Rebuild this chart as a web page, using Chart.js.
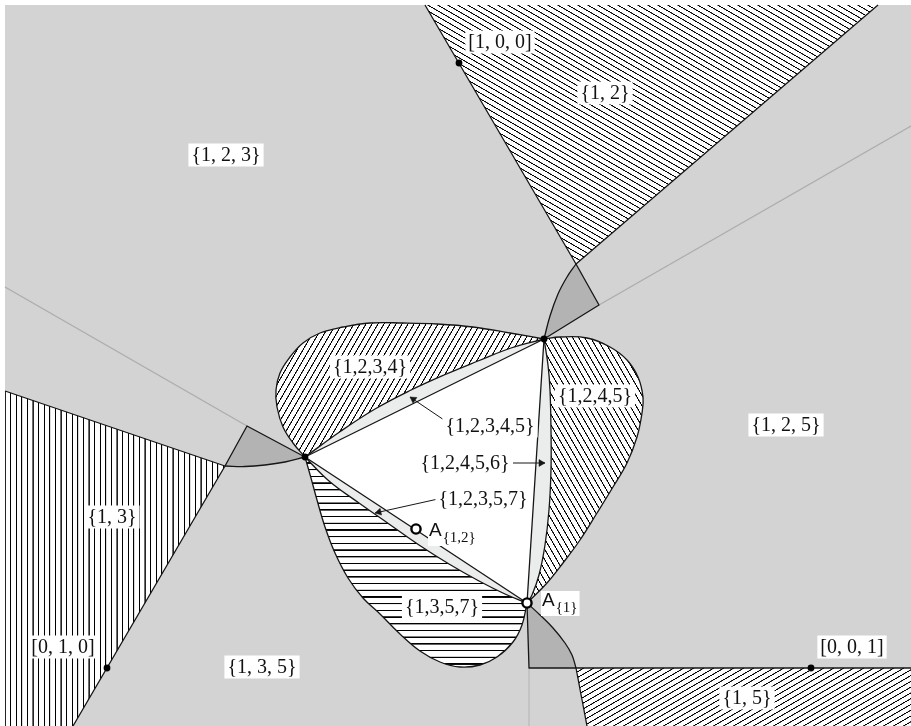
<!DOCTYPE html>
<html><head><meta charset="utf-8">
<script src="https://cdn.jsdelivr.net/npm/chart.js@4.4.0/dist/chart.umd.min.js"></script>
<style>html,body{margin:0;padding:0;background:#fff;overflow:hidden}canvas{display:block}</style>
</head><body>
<canvas id="c" width="911" height="726"></canvas>
<script>
// ---------- data (pixel-space coordinates) ----------
const triTop = [544, 339];
const triLeft = [305, 457];
const triA1 = [527, 603];
const pointA12 = [416, 529];

const frame = [[5, 5], [911, 5], [911, 726], [5, 726]];

const region12 = [[425, 5], [576, 264], [878, 5]];
const region13 = [[5, 391], [225, 466], [73, 726], [5, 726]];
const region15 = [[576, 668], [911, 668], [911, 726], [587, 726]];

const darkTopApex = [599, 305];
const darkLeftApex = [247, 426];
const darkBottomApex = [529, 668];

const arcTop = [[544, 339], [550, 316], [558, 294], [567, 277], [576, 264]];
const arcLeft = [[225, 466], [245, 466.5], [265, 465], [285, 462], [305, 457]];
const arcBottom = [[527, 603], [540, 615], [553, 628], [565, 643], [572, 655], [576, 668]];

const lobe1234 = [[305, 457], [293, 443], [283, 427], [277, 407], [276, 390], [280, 373], [290, 357], [303, 343],
  [320, 333], [343, 327], [370, 323], [403, 323], [437, 324], [473, 327], [510, 333], [544, 339]];
const lobe1245 = [[544, 339], [560, 337], [587, 338], [610, 347], [627, 360], [638, 377], [643, 397], [642, 413],
  [637, 437], [627, 463], [613, 487], [597, 513], [580, 540], [563, 563], [547, 583], [527, 603]];
const lobe1357 = [[305, 457], [311, 478], [317, 500], [325, 527], [335, 553], [348, 578], [363, 598], [380, 614],
  [400, 634], [420, 651], [440, 662], [460, 667], [480, 665], [497, 657], [513, 642], [522, 625], [527, 603]];

const lens12345 = [[305, 457], [341, 431], [375, 409], [409, 391], [444, 375], [478, 361], [511, 348], [544, 339]];
const lens12456 = [[544, 339], [548, 365], [550, 390], [551, 430], [551, 470], [549, 510], [545, 545], [539, 575], [532, 595], [527, 603]];
const lens12357 = [[305, 457], [329, 481], [359, 503], [389, 524], [419, 545], [449, 564], [479, 581], [505, 594], [527, 603]];

const edgeLines = [
  [[425, 5], [576, 264], [878, 5]],
  [[576, 264], [599, 305], [544, 339]],
  [[5, 391], [225, 466], [73, 726]],
  [[225, 466], [247, 426], [305, 457]],
  [[527, 603], [529, 668], [911, 668]],
  [[576, 668], [587, 726]],
  [[305, 457], [544, 339], [527, 603], [305, 457]]
];
const rays = [
  [[599, 305], [911, 126]],
  [[247, 426], [5, 287]]
];
const rayDown = [[529, 668], [529, 726]];

const blackDots = [[544, 339], [305, 457], [459, 63], [107, 668], [811, 668]];
const openDots = [[527, 603], [416, 529]];

const arrowFrom = [[447, 422], [513, 463], [438, 499]];
const arrowTo = [[410, 397], [545, 463], [375, 513]];

const labelTexts = ['[1, 0, 0]', '{1, 2}', '{1, 2, 3}', '{1, 2, 5}', '{1, 3}', '[0, 1, 0]', '{1, 3, 5}', '{1, 5}',
  '[0, 0, 1]', '{1,2,3,4}', '{1,2,4,5}', '{1,2,3,4,5}', '{1,2,4,5,6}', '{1,2,3,5,7}', '{1,3,5,7}'];
const labelAnchors = [[500, 42], [605, 93], [226, 155], [786, 425], [112, 517], [63, 647], [262, 667], [747, 698],
  [852, 647], [370, 367], [595, 396], [490, 426], [465, 463], [483, 499], [442, 607]];

const pointNames = ['A', 'A'];
const pointSubs = ['{1}', '{1,2}'];
const pointNameAnchors = [[542, 606], [429, 536]];

// ---------- styles ----------
const GRAY = '#d3d3d3', DARK = '#b3b3b3', LIGHT = '#ebecec', INK = '#161616';
const canvas = document.getElementById('c');
const ctx = canvas.getContext('2d');

function hatch(angle, spacing) {
  const c = document.createElement('canvas');
  c.width = 20; c.height = 20;
  const g = c.getContext('2d');
  g.fillStyle = '#fff'; g.fillRect(0, 0, 20, 20);
  g.fillStyle = '#000'; g.fillRect(0, 0, 20, 4);
  const p = ctx.createPattern(c, 'repeat');
  p.setTransform(new DOMMatrix().rotate(angle).scale(spacing / 20));
  return p;
}

const xy = p => ({x: p[0], y: p[1]});
function regionDs(pts, color, tension) {
  return {data: pts.map(xy), showLine: true, fill: 'shape', backgroundColor: color, borderColor: 'transparent',
    borderWidth: 0, pointRadius: 0, pointHoverRadius: 0, tension: tension};
}
function strokeDs(pts, color, width, tension) {
  return {data: pts.map(xy), showLine: true, fill: false, borderColor: color, borderWidth: width, pointRadius: 0,
    pointHoverRadius: 0, tension: tension, borderJoinStyle: 'round', borderCapStyle: 'butt'};
}
const last = a => a[a.length - 1];

const layers = [];
layers.push(regionDs(frame, GRAY, 0));
layers.push(regionDs(region12, hatch(30, 5.0), 0));
layers.push(regionDs(region13, hatch(90, 5.6), 0));
layers.push(regionDs(region15, hatch(-30, 5.0), 0));
rays.forEach(r => layers.push(strokeDs(r, '#adadad', 1.4, 0)));
layers.push(strokeDs(rayDown, '#bdbdbd', 1.4, 0));
layers.push(regionDs(arcTop.concat([last(arcTop), darkTopApex]), DARK, 0.4));
layers.push(regionDs(arcLeft.concat([last(arcLeft), darkLeftApex]), DARK, 0.4));
layers.push(regionDs(arcBottom.concat([last(arcBottom), darkBottomApex]), DARK, 0.4));
layers.push(regionDs(lobe1234, hatch(-60, 5.2), 0.4));
layers.push(regionDs(lobe1245, hatch(60, 5.2), 0.4));
layers.push(regionDs(lobe1357, hatch(0, 6.7), 0.4));
layers.push(regionDs(lens12345, LIGHT, 0.4));
layers.push(regionDs(lens12456, LIGHT, 0.4));
layers.push(regionDs(lens12357, LIGHT, 0.4));
layers.push(regionDs(edgeLines[6], '#ffffff', 0));
[arcTop, arcLeft, arcBottom, lobe1234, lobe1245, lobe1357, lens12345, lens12456, lens12357]
  .forEach(c => layers.push(strokeDs(c, INK, 1.3, 0.4)));
edgeLines.forEach(e => layers.push(strokeDs(e, INK, 1.3, 0)));
arrowFrom.forEach((f, i) => layers.push(strokeDs([f, arrowTo[i]], INK, 1, 0)));
// arrow heads: triangle point style, rotated along each arrow
const headR = 4;
const heads = arrowTo.map((t, i) => {
  const dx = t[0] - arrowFrom[i][0], dy = t[1] - arrowFrom[i][1], L = Math.hypot(dx, dy);
  return {x: t[0] - dx / L * headR, y: t[1] - dy / L * headR};
});
const headRot = arrowTo.map((t, i) => Math.atan2(t[0] - arrowFrom[i][0], -(t[1] - arrowFrom[i][1])) * 180 / Math.PI);
layers.push({data: heads, showLine: false, pointStyle: 'triangle', pointRadius: headR, pointHoverRadius: headR,
  pointRotation: headRot, backgroundColor: INK, borderColor: INK, borderWidth: 0.5});
layers.push({data: blackDots.map(xy), showLine: false, pointRadius: 3.4, pointHoverRadius: 3.4, backgroundColor: '#000', borderWidth: 0});
layers.push({data: openDots.map(xy), showLine: false, pointRadius: 4.6, pointHoverRadius: 4.6, backgroundColor: '#fff',
  borderColor: '#000', borderWidth: 2.4});

const N = layers.length;
layers.forEach((d, i) => { d.order = N - i; });

const labelPlugin = {
  id: 'labels',
  afterDatasetsDraw(chart) {
    const c = chart.ctx, sx = chart.scales.x, sy = chart.scales.y;
    c.save();
    c.font = '20px "Liberation Serif"';
    c.textAlign = 'center'; c.textBaseline = 'middle';
    labelTexts.forEach((t, i) => {
      const px = sx.getPixelForValue(labelAnchors[i][0]), py = sy.getPixelForValue(labelAnchors[i][1]);
      const w = c.measureText(t).width + 6, h = 23;
      c.fillStyle = '#fff'; c.fillRect(px - w / 2, py - h / 2, w, h);
      c.fillStyle = '#111'; c.fillText(t, px, py + 1);
    });
    c.textAlign = 'left'; c.textBaseline = 'alphabetic';
    pointNames.forEach((n, i) => {
      const px = sx.getPixelForValue(pointNameAnchors[i][0]), py = sy.getPixelForValue(pointNameAnchors[i][1]);
      c.font = '19px "Liberation Sans"';
      const wA = c.measureText(n).width;
      c.font = '15px "Liberation Serif"';
      const wS = c.measureText(pointSubs[i]).width;
      c.fillStyle = '#fff'; c.fillRect(px - 1, py - 15, wA + wS + 4, 25);
      c.fillStyle = '#111';
      c.font = '19px "Liberation Sans"'; c.fillText(n, px, py);
      c.font = '15px "Liberation Serif"'; c.fillText(pointSubs[i], px + wA + 1, py + 6);
    });
    c.restore();
  }
};

new Chart(ctx, {
  type: 'scatter',
  data: {datasets: layers},
  options: {
    responsive: false, animation: false, devicePixelRatio: 1, events: [],
    layout: {padding: 0, autoPadding: false},
    plugins: {legend: {display: false}, tooltip: {enabled: false}, filler: {propagate: false}},
    scales: {
      x: {type: 'linear', min: 0, max: 911, display: false},
      y: {type: 'linear', min: 0, max: 726, reverse: true, display: false}
    }
  },
  plugins: [labelPlugin]
});
</script>
</body></html>
